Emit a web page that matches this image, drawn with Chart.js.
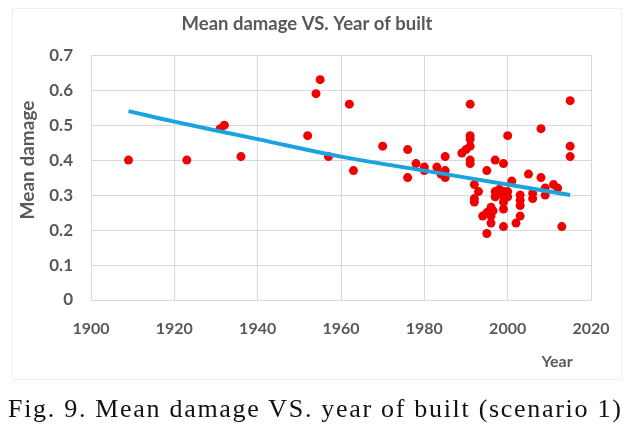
<!DOCTYPE html>
<html>
<head>
<meta charset="utf-8">
<script src="https://cdn.jsdelivr.net/npm/chart.js@4"></script>
<style>
  html, body { margin: 0; padding: 0; background: #fff; }
  #wrap { position: relative; width: 633px; height: 433px; overflow: hidden; }
  #frame { position: absolute; left: 12px; top: 8px; width: 608px; height: 370px; border: 1px solid #f0f0f0; }
  #box { position: absolute; left: 0; top: 0; width: 633px; height: 433px; }
  #caption {
    position: absolute; left: 8px; top: 394px; width: 625px;
    font-family: "Liberation Serif", serif; font-size: 26px; letter-spacing: 1.7px;
    color: #111; white-space: nowrap;
  }
</style>
</head>
<body>
<div id="wrap">
  <div id="frame"></div>
  <div id="box"><canvas id="chart"></canvas></div>
  <div id="caption">Fig. 9. Mean damage VS. year of built (scenario 1)</div>
</div>
<script>
// scatter: year of built / mean damage
var years = [1909, 1923, 1931, 1932, 1936, 1952, 1954, 1955, 1957, 1962, 1963, 1970,
  1976, 1976, 1978, 1980, 1980, 1983, 1984, 1985, 1985, 1985, 1989, 1990,
  1991, 1991, 1991, 1991, 1991, 1991, 1992, 1992, 1992, 1993, 1994, 1995, 1995, 1995,
  1996, 1996, 1996, 1996.5, 1997, 1997, 1997, 1998, 1998, 1999, 1999, 1999, 1999, 1999, 1999,
  2000, 2000, 2000, 2001, 2002, 2003, 2003, 2003, 2003, 2005, 2006, 2006,
  2008, 2008, 2009, 2009, 2011, 2012, 2013, 2015, 2015, 2015];
var damage = [0.40, 0.40, 0.49, 0.50, 0.41, 0.47, 0.59, 0.63, 0.41, 0.56, 0.37, 0.44,
  0.43, 0.35, 0.39, 0.38, 0.37, 0.38, 0.36, 0.41, 0.37, 0.35, 0.42, 0.43,
  0.56, 0.47, 0.46, 0.44, 0.40, 0.39, 0.33, 0.29, 0.28, 0.31, 0.24, 0.37, 0.25, 0.19,
  0.265, 0.24, 0.22, 0.255, 0.40, 0.31, 0.295, 0.316, 0.31, 0.39, 0.31, 0.295, 0.28, 0.26, 0.21,
  0.47, 0.31, 0.295, 0.34, 0.22, 0.30, 0.285, 0.27, 0.24, 0.36, 0.305, 0.29,
  0.49, 0.35, 0.32, 0.30, 0.33, 0.32, 0.21, 0.57, 0.44, 0.41];

// trend line
var trendYears = [1909, 1920, 1940, 1960, 1980, 2000, 2015];
var trendValues = [0.54, 0.51, 0.46, 0.41, 0.37, 0.33, 0.30];

var xTicks = [1900, 1920, 1940, 1960, 1980, 2000, 2020];
var yTicks = [0, 0.1, 0.2, 0.3, 0.4, 0.5, 0.6, 0.7];

var textColor = '#595959';
var gridColor = '#d9d9d9';

var points = years.map(function(y, i) { return { x: y, y: damage[i] }; });
var trend = trendYears.map(function(y, i) { return { x: y, y: trendValues[i] }; });

// axis titles placed like the Excel original
var axisLabels = {
  id: 'axisLabels',
  afterDraw: function(chart) {
    var ctx = chart.ctx;
    var a = chart.chartArea;
    ctx.save();
    ctx.fillStyle = textColor;
    ctx.font = 'bold 19px Lato';
    ctx.textAlign = 'center';
    ctx.textBaseline = 'middle';
    ctx.translate(28, 160);
    ctx.rotate(-Math.PI / 2);
    ctx.fillText('Mean damage', 0, 0);
    ctx.restore();
    ctx.save();
    ctx.fillStyle = textColor;
    ctx.font = 'bold 16px Lato';
    ctx.textAlign = 'center';
    ctx.textBaseline = 'middle';
    ctx.fillText('Year', a.right - 34, a.bottom + 62);
    ctx.restore();
  }
};

var ctx = document.getElementById('chart').getContext('2d');
new Chart(ctx, {
  type: 'scatter',
  data: {
    datasets: [
      {
        label: 'Trend',
        type: 'line',
        data: trend,
        borderColor: '#1aa3dc',
        borderWidth: 4,
        pointRadius: 0,
        tension: 0.4,
        fill: false,
        order: 1
      },
      {
        label: 'Mean damage',
        data: points,
        backgroundColor: '#f00000',
        borderColor: '#f00000',
        pointRadius: 4.5,
        borderWidth: 0,
        order: 2
      }
    ]
  },
  options: {
    responsive: true,
    maintainAspectRatio: false,
    animation: false,
    layout: { padding: { left: 0, right: 19, top: 0, bottom: 0 } },
    plugins: {
      legend: { display: false },
      tooltip: { enabled: false },
      title: {
        display: true,
        text: 'Mean damage VS. Year of built',
        color: textColor,
        font: { family: 'Lato', size: 18.5, weight: 'bold' },
        padding: { top: 13, bottom: 20 }
      }
    },
    scales: {
      x: {
        type: 'linear',
        min: 1900,
        max: 2020,
        afterBuildTicks: function(s) { s.ticks = xTicks.map(function(v) { return { value: v }; }); },
        afterFit: function(s) { s.height = 133; },
        grid: { color: gridColor, drawTicks: false },
        border: { display: false },
        ticks: {
          color: textColor,
          padding: 19,
          font: { family: 'Lato', size: 16, weight: 'bold' },
          callback: function(v) { return String(v); }
        }
      },
      y: {
        min: 0,
        max: 0.7,
        afterBuildTicks: function(s) { s.ticks = yTicks.map(function(v) { return { value: v }; }); },
        afterFit: function(s) { s.width = 91; },
        grid: { color: gridColor, drawTicks: false },
        border: { display: false },
        ticks: {
          color: textColor,
          padding: 18,
          font: { family: 'Lato', size: 17, weight: 'bold' },
          callback: function(v) { return v === 0 ? '0' : v.toFixed(1); }
        }
      },
      // empty right-hand strip so the plot ends at 2020 like the original
      yRight: {
        position: 'right',
        display: true,
        afterFit: function(s) { s.width = 23; },
        grid: { display: false, drawTicks: false },
        border: { display: false },
        ticks: { display: false }
      }
    }
  },
  plugins: [axisLabels]
});
</script>
</body>
</html>
